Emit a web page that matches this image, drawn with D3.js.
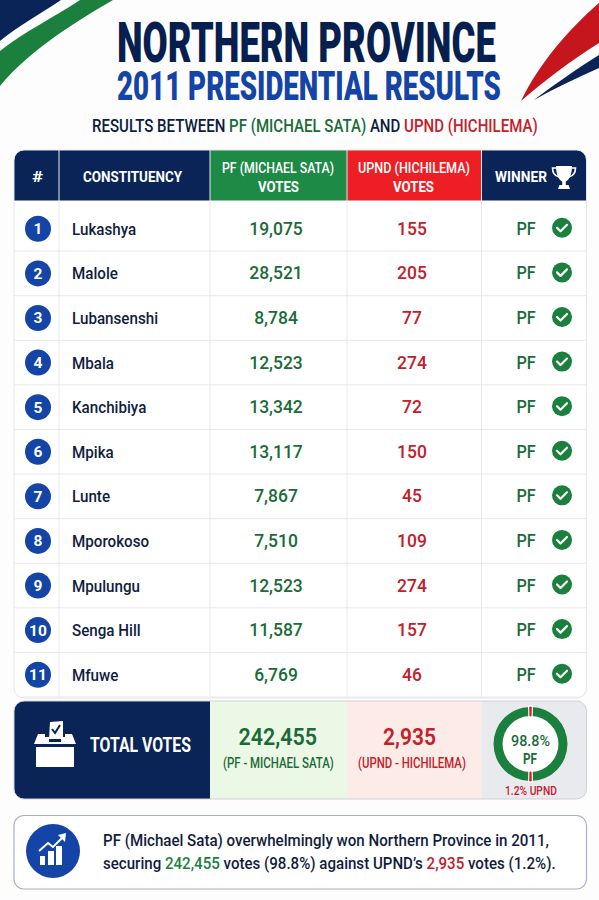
<!DOCTYPE html>
<html><head><meta charset="utf-8">
<script src="https://cdn.jsdelivr.net/npm/d3@7"></script>
<style>html,body{margin:0;padding:0;background:#fff}svg{display:block}text{font-family:Roboto,sans-serif}</style>
</head><body><svg id="c" width="599" height="900"></svg>
<script>
const constituencies=["Lukashya","Malole","Lubansenshi","Mbala","Kanchibiya","Mpika","Lunte","Mporokoso","Mpulungu","Senga Hill","Mfuwe"];
const pfVotes=[19075,28521,8784,12523,13342,13117,7867,7510,12523,11587,6769];
const upndVotes=[155,205,77,274,72,150,45,109,274,157,46];
const winners=["PF","PF","PF","PF","PF","PF","PF","PF","PF","PF","PF"];
const totalPF=242455,totalUPND=2935;
const columns=["#","CONSTITUENCY","PF","UPND","WINNER"];
const NAVY="#0a2458",BLUE="#1344a6",GRN="#1a6b38",RED="#c4202a",HGRN="#1d8a45",HRED="#ed1f24";
const svg=d3.select("#c");
const fmt=d3.format(",");
const pct=d3.format(".1f");
const L=14,R=586.5;
const colEdges=[14,59,210,347,481.5,586.5];
const rowY=d3.scaleBand().domain(constituencies).range([206.5,697]);

svg.append("rect").attr("width",599).attr("height",900).attr("fill","#fdfdfe");
function fit(parent,segs,x0,x1,base,size,weight,anchorFill){
  const g=parent.append("g");
  const t=g.append("text").attr("font-size",size).attr("font-weight",weight||500).attr("fill",anchorFill||NAVY);
  (Array.isArray(segs)?segs:[[segs,anchorFill||NAVY]]).forEach(s=>t.append("tspan").attr("fill",s[1]).style("white-space","pre").text(s[0]));
  t.style("white-space","pre");
  const w=t.node().getComputedTextLength();
  g.attr("transform",`translate(${x0},${base}) scale(${(x1-x0)/w},1)`);
  return g;
}
const deco=svg.append("g");
deco.append("path").attr("fill",NAVY).attr("d","M0,0L61,0C40,14 18,26 0,41Z");
deco.append("path").attr("fill","#1b7f3d").attr("d","M0,51C25,31 55,17 80,0L113,0C75,22 30,50 0,86Z");
deco.append("path").attr("fill","#c4161c").attr("d","M521,101C540,62 570,28 599,3L599,43C572,60 545,80 521,101Z");
deco.append("path").attr("fill",NAVY).attr("d","M534,100C555,84 578,68 599,55L599,68C577,78 555,88 534,100Z");
fit(svg,"NORTHERN PROVINCE",117,496,62,55,900,"#071f4e");
fit(svg,"2011 PRESIDENTIAL RESULTS",117,501,100,40,900,BLUE);
fit(svg,[["RESULTS BETWEEN ","#0d1c3f"],["PF (MICHAEL SATA)",GRN],[" AND ","#0d1c3f"],["UPND (HICHILEMA)",RED]],92,538,131.5,18,500);

const defs=svg.append("defs");
defs.append("clipPath").attr("id","tbl").append("rect").attr("x",L).attr("y",150).attr("width",R-L).attr("height",548).attr("rx",10);
const tbl=svg.append("g").attr("clip-path","url(#tbl)");
tbl.append("rect").attr("x",L).attr("y",150).attr("width",R-L).attr("height",548).attr("fill","#fff");
const headFill=[NAVY,NAVY,HGRN,HRED,NAVY];
tbl.selectAll("rect.h").data(columns).join("rect").attr("class","h")
 .attr("x",(d,i)=>colEdges[i]).attr("y",150).attr("width",(d,i)=>colEdges[i+1]-colEdges[i]).attr("height",50.5).attr("fill",(d,i)=>headFill[i]);
tbl.selectAll("line.v").data(colEdges.slice(1,-1)).join("line").attr("class","v").attr("x1",d=>d).attr("x2",d=>d).attr("y1",150).attr("y2",698).attr("stroke","#e9e9ee").attr("stroke-width",1);
tbl.selectAll("line.r").data(constituencies).join("line").attr("class","r").attr("x1",L).attr("x2",R)
 .attr("y1",d=>rowY(d)+rowY.bandwidth()).attr("y2",d=>rowY(d)+rowY.bandwidth()).attr("stroke","#e8e8ec");
svg.append("rect").attr("x",L).attr("y",150).attr("width",R-L).attr("height",548).attr("rx",10).attr("fill","none").attr("stroke","#e6e6ea");

fit(svg,"#",32,43,182,15.5,700,"#fff");
fit(svg,"CONSTITUENCY",83,182,182,15.5,700,"#fff");
fit(svg,"PF (MICHAEL SATA)",222,334,173,15,500,"#fff");
fit(svg,"VOTES",258,299,192,15.5,700,"#fff");
fit(svg,"UPND (HICHILEMA)",358,470,173,15,500,"#fff");
fit(svg,"VOTES",393,434,192,15.5,700,"#fff");
fit(svg,"WINNER",495,547,182,15.5,700,"#fff");
const tr=svg.append("g").attr("transform","translate(564,176)").attr("fill","#fff");
tr.append("path").attr("d","M-8,-10H8C8,-1 5,4 1.8,5.5V9H-1.8V5.5C-5,4 -8,-1 -8,-10Z");
tr.append("path").attr("fill","none").attr("stroke","#fff").attr("stroke-width",1.6).attr("d","M-8,-8H-11.5C-11.5,-3 -9,0 -5,1M8,-8H11.5C11.5,-3 9,0 5,1");
tr.append("path").attr("d","M-6,13L-4.5,9H4.5L6,13Z");

const rows=svg.selectAll("g.row").data(constituencies).join("g").attr("class","row")
  .attr("transform",d=>`translate(0,${rowY(d)+rowY.bandwidth()/2})`);
rows.append("circle").attr("cx",38).attr("r",13).attr("fill",BLUE);
rows.append("text").attr("x",38).attr("y",5.5).attr("text-anchor","middle").attr("font-size",15.5).attr("font-weight",700).attr("fill","#fff").text((d,i)=>i+1);
const squeezed=(sel,x,sx,anchor,size,weight,fill,txt)=>sel.append("g").attr("transform",`translate(${x},6) scale(${sx},1)`)
  .append("text").attr("text-anchor",anchor).attr("font-size",size).attr("font-weight",weight).attr("fill",fill).text(txt);
squeezed(rows,72,.92,"start",16.5,500,"#111d3e",d=>d);
squeezed(rows,276,.92,"middle",19,500,GRN,(d,i)=>fmt(pfVotes[i]));
squeezed(rows,412,.92,"middle",19,500,RED,(d,i)=>fmt(upndVotes[i]));
squeezed(rows,526,.9,"middle",18,500,GRN,(d,i)=>winners[i]);
rows.append("circle").attr("cx",562).attr("cy",-1).attr("r",10).attr("fill","#1b7f3d");
rows.append("path").attr("fill","none").attr("stroke","#fff").attr("stroke-width",2.2).attr("stroke-linecap","round").attr("stroke-linejoin","round").attr("d","M557,-1L560.5,2.5L567,-4");

defs.append("clipPath").attr("id","tot").append("rect").attr("x",L).attr("y",701).attr("width",R-L).attr("height",98).attr("rx",10);
const tot=svg.append("g").attr("clip-path","url(#tot)");
const totFill=[NAVY,"#ebf8e5","#fdebe7","#e9eaee"];
const totEdges=[14,210,347,481.5,586.5];
tot.selectAll("rect").data(totFill).join("rect").attr("x",(d,i)=>totEdges[i]).attr("y",701).attr("width",(d,i)=>totEdges[i+1]-totEdges[i]).attr("height",98).attr("fill",d=>d);
svg.append("rect").attr("x",L).attr("y",701).attr("width",R-L).attr("height",98).attr("rx",10).attr("fill","none").attr("stroke","#cfd1d8");
const bb=svg.append("g").attr("transform","translate(55,748)").attr("fill","#fff");
bb.append("path").attr("d","M-21,-4L-17,-14H-10V-11H-6V-6H6V-11H10V-14H17L21,-4Z");
bb.append("rect").attr("x",-19).attr("y",-1).attr("width",38).attr("height",20);
bb.append("path").attr("d","M-6,-9L-5,-26L8,-27L8,-9Z");
bb.append("path").attr("fill","none").attr("stroke",NAVY).attr("stroke-width",2).attr("d","M-3,-19L0,-15L5,-23");
fit(svg,"TOTAL VOTES",90,191,752,20,700,"#fff");
fit(svg,fmt(totalPF),238.5,317,745,24,600,GRN);
fit(svg,"(PF - MICHAEL SATA)",223,334,768,14,500,GRN);
fit(svg,fmt(totalUPND),383,436,745,24,600,RED);
fit(svg,"(UPND - HICHILEMA)",358,466,768,14,500,RED);

const share=[totalPF,totalUPND];
const sum=d3.sum(share);
const slices=[{k:"pf",v:share[0]/2},{k:"up",v:share[1]/2},{k:"pf",v:share[0]/2},{k:"up",v:share[1]/2}];
const off=share[1]/4/sum*2*Math.PI;
const pie=d3.pie().sort(null).value(d=>d.v).startAngle(off).endAngle(off+2*Math.PI);
const arc=d3.arc().innerRadius(28).outerRadius(37);
const dn=svg.append("g").attr("transform","translate(530.5,744)");
const arcs=pie(slices);
dn.append("circle").attr("r",28).attr("fill","#fff");
dn.selectAll("path.a").data(arcs.filter(d=>d.data.k==="pf")).join("path").attr("class","a").attr("d",arc).attr("fill","#1b7f3d");
const ticks=arcs.filter(d=>d.data.k==="up");
dn.selectAll("path.w").data(ticks).join("path").attr("class","w").attr("d",arc).attr("fill","#fff").attr("stroke","#fff").attr("stroke-width",3.4);
dn.selectAll("path.b").data(ticks).join("path").attr("class","b").attr("d",arc).attr("fill",RED).attr("stroke",RED).attr("stroke-width",1);
fit(svg,pct(totalPF/sum*100)+"%",511,550,745.5,15,500,GRN);
fit(svg,"PF",523,537,764,15,700,GRN);
fit(svg,pct(totalUPND/sum*100)+"% UPND",505,557,795,12,500,RED);

svg.append("rect").attr("x",L).attr("y",815.5).attr("width",R-L).attr("height",73.5).attr("rx",10).attr("fill","#fff").attr("stroke","#a9aecb").attr("stroke-width",1.2);
svg.append("circle").attr("cx",53).attr("cy",851).attr("r",27).attr("fill",BLUE);
const ic=svg.append("g").attr("transform","translate(53,851)");
const iconBars=[[-13,5,5,9],[-5,0,6,14],[3,-5,6,19]];
ic.selectAll("rect").data(iconBars).join("rect").attr("x",d=>d[0]).attr("y",d=>d[1]).attr("width",d=>d[2]).attr("height",d=>d[3]).attr("fill","#fff");
ic.append("path").attr("fill","none").attr("stroke","#fff").attr("stroke-width",2).attr("d","M-14,0L-5,-8L0,-4L10,-14");
ic.append("path").attr("fill","#fff").attr("d","M5,-16L13,-18L12,-9Z");
fit(svg,"PF (Michael Sata) overwhelmingly won Northern Province in 2011,",103,549,846,17,500,"#111d3e");
fit(svg,[["securing ","#111d3e"],[fmt(totalPF),"#1b7f3d"],[" votes (98.8%) against UPND’s ","#111d3e"],[fmt(totalUPND),RED],[" votes (1.2%).","#111d3e"]],103,556,869,17,500);
</script></body></html>
